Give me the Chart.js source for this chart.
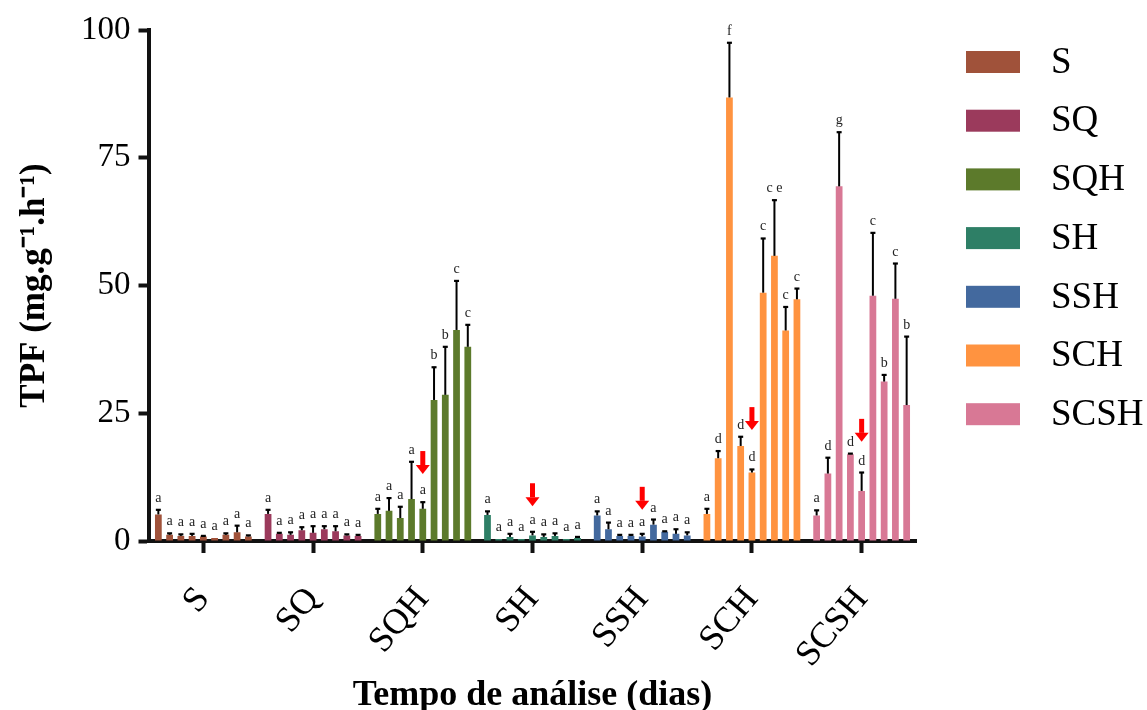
<!DOCTYPE html>
<html><head><meta charset="utf-8">
<script src="https://cdn.jsdelivr.net/npm/chart.js@4.4.0/dist/chart.umd.min.js"></script>
<style>html,body{margin:0;padding:0;background:#fff;}canvas{display:block;}</style>
</head><body>
<canvas id="c" width="1147" height="710"></canvas>
<script>
// ---- data ----
const groups = ['S', 'SQ', 'SQH', 'SH', 'SSH', 'SCH', 'SCSH'];
const groupColors = ['#A0523A', '#9B3A5C', '#5C7A2B', '#2E7F66', '#43699E', '#FF9340', '#D87895'];
const times = ['T1', 'T2', 'T3', 'T4', 'T5', 'T6', 'T7', 'T8', 'T9'];
const yTicks = [0, 25, 50, 75, 100];

const meanS    = [5.2, 1.2, 1.0, 1.0, 0.9, 0.6, 1.2, 1.7, 0.9];
const errS     = [0.9, 0.3, 0.3, 0.4, 0.1, 0.0, 0.3, 1.3, 0.2];
const meanSQ   = [5.3, 1.4, 1.2, 2.1, 1.6, 2.3, 1.9, 1.1, 1.0];
const errSQ    = [0.8, 0.2, 0.5, 0.6, 1.3, 0.6, 1.0, 0.2, 0.2];
const meanSQH  = [5.3, 5.9, 4.5, 8.2, 6.3, 27.6, 28.6, 41.3, 38.0];
const errSQH   = [1.0, 2.5, 2.2, 7.3, 1.3, 6.4, 9.4, 9.6, 4.3];
const meanSH   = [5.1, 0.4, 0.8, 0.4, 1.1, 0.8, 1.0, 0.4, 0.6];
const errSH    = [0.7, 0.0, 0.6, 0.0, 0.7, 0.5, 0.5, 0.0, 0.2];
const meanSSH  = [5.0, 2.3, 1.0, 1.0, 0.9, 3.2, 1.8, 1.4, 1.1];
const errSSH   = [0.8, 1.3, 0.2, 0.2, 0.5, 1.0, 0.1, 0.9, 0.6];
const meanSCH  = [5.3, 16.2, 86.8, 18.6, 13.4, 48.6, 55.8, 41.2, 47.3];
const errSCH   = [1.0, 1.4, 10.7, 1.8, 0.6, 10.6, 10.9, 4.6, 2.1];
const meanSCSH = [5.0, 13.2, 69.4, 17.0, 9.8, 48.0, 31.2, 47.4, 26.6];
const errSCSH  = [1.0, 3.1, 10.6, 0.1, 3.6, 12.3, 1.3, 6.9, 13.4];

const letS    = ['a','a','a','a','a','a','a','a','a'];
const letSQ   = ['a','a','a','a','a','a','a','a','a'];
const letSQH  = ['a','a','a','a','a','b','b','c','c'];
const letSH   = ['a','a','a','a','a','a','a','a','a'];
const letSSH  = ['a','a','a','a','a','a','a','a','a'];
const letSCH  = ['a','d','f','d','d','c','c e','c','c'];
const letSCSH = ['a','d','g','d','d','c','b','c','b'];

// red arrows (value of the arrow tip), drawn over the 5th bar of each group
const arrowTip = [null, null, 13.1, 6.8, 6.1, 21.7, 19.4];
const arrowBar = 4;

// ---- build ----
const means = [meanS, meanSQ, meanSQH, meanSH, meanSSH, meanSCH, meanSCSH];
const errs = [errS, errSQ, errSQH, errSH, errSSH, errSCH, errSCSH];
const lets = [letS, letSQ, letSQH, letSH, letSSH, letSCH, letSCSH];

const datasets = times.map((t, d) => ({
  label: t,
  data: groups.map((g, gi) => means[gi][d]),
  errors: groups.map((g, gi) => errs[gi][d]),
  letters: groups.map((g, gi) => lets[gi][d]),
  backgroundColor: groupColors,
  borderWidth: 0,
  categoryPercentage: 0.923,
  barPercentage: 0.6
}));

const SERIF = '"Liberation Serif", "Times New Roman", serif';

const annot = {
  id: 'annot',
  afterDatasetsDraw(chart) {
    const ctx = chart.ctx, y = chart.scales.y;
    ctx.save();
    chart.data.datasets.forEach((ds, d) => {
      const meta = chart.getDatasetMeta(d);
      meta.data.forEach((bar, g) => {
        const m = ds.data[g], e = ds.errors[g];
        const yBar = y.getPixelForValue(m), yTop = y.getPixelForValue(m + e);
        ctx.strokeStyle = '#000';
        if (e > 0) {
          ctx.lineWidth = 2;
          ctx.beginPath(); ctx.moveTo(bar.x, yBar); ctx.lineTo(bar.x, yTop); ctx.stroke();
          ctx.lineWidth = 2.2;
          ctx.beginPath(); ctx.moveTo(bar.x - 2.5, yTop); ctx.lineTo(bar.x + 2.5, yTop); ctx.stroke();
        }
        ctx.fillStyle = '#222';
        ctx.font = '14px ' + SERIF;
        ctx.textAlign = 'center';
        ctx.textBaseline = 'alphabetic';
        ctx.fillText(ds.letters[g], bar.x, yTop - 8);
      });
    });
    const am = chart.getDatasetMeta(arrowBar);
    arrowTip.forEach((v, g) => {
      if (v == null) return;
      const x = am.data[g].x, tip = y.getPixelForValue(v);
      ctx.fillStyle = '#FF0000';
      ctx.fillRect(x - 2.5, tip - 23, 5, 14);
      ctx.beginPath();
      ctx.moveTo(x - 7, tip - 9); ctx.lineTo(x + 7, tip - 9); ctx.lineTo(x, tip);
      ctx.closePath(); ctx.fill();
    });
    // legend
    groups.forEach((g, i) => {
      const cy = 62 + i * 58.7;
      ctx.fillStyle = groupColors[i];
      ctx.fillRect(966, cy - 11, 54, 22);
      ctx.fillStyle = '#000';
      ctx.font = '37px ' + SERIF;
      ctx.textAlign = 'left';
      ctx.textBaseline = 'middle';
      ctx.fillText(g, 1051, cy + 1);
    });
    ctx.restore();
  }
};

new Chart(document.getElementById('c'), {
  type: 'bar',
  data: { labels: groups, datasets },
  options: {
    responsive: false,
    animation: false,
    devicePixelRatio: 1,
    layout: { padding: { top: 30, right: 230.5, left: 0, bottom: 0 } },
    plugins: { legend: { display: false }, tooltip: { enabled: false } },
    scales: {
      x: {
        afterFit: s => { s.height = 169; },
        grid: { display: true, offset: false, drawOnChartArea: false, drawTicks: true, tickLength: 12, tickWidth: 4, tickColor: '#111' },
        border: { display: true, color: '#111', width: 4 },
        ticks: { font: { family: SERIF, size: 36 }, color: '#000', minRotation: 50, maxRotation: 50, padding: 26 },
        title: { display: true, text: 'Tempo de análise (dias)', color: '#000', font: { family: SERIF, size: 36, weight: 'bold', lineHeight: 1 }, padding: { top: 0, bottom: -4 } }
      },
      y: {
        min: 0, max: 100,
        afterFit: s => { s.width = 148.5; },
        afterBuildTicks: s => { s.ticks = yTicks.map(v => ({ value: v })); },
        grid: { display: true, drawOnChartArea: false, drawTicks: true, tickLength: 10, tickWidth: 4, tickColor: '#111' },
        border: { display: true, color: '#111', width: 4 },
        ticks: { font: { family: SERIF, size: 33 }, color: '#000', padding: 8 },
        title: { display: true, text: 'TPF (mg.g⁻¹.h⁻¹)', color: '#000', font: { family: SERIF, size: 35, weight: 'bold' }, padding: { top: 14, bottom: 0 } }
      }
    }
  },
  plugins: [annot]
});
</script>
</body></html>
